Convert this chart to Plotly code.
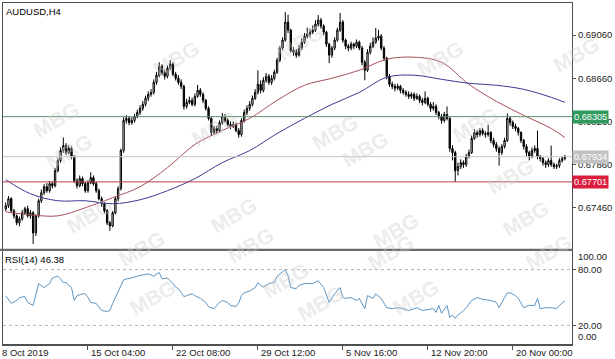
import plotly.graph_objects as go

# ---------------- data (prices in points, 1 point = 0.00001) ----------------
bar_open = [
    67450, 67480, 67545, 67433, 67386, 67321, 67359, 67414, 67452, 67386,
    67414, 67228, 67386, 67526, 67600, 67656, 67619, 67684, 67665, 67805,
    67898, 67991, 68037, 67972, 68010, 67935, 67712, 67665, 67731, 67684,
    67619, 67693, 67740, 67684, 67619, 67545, 67498, 67433, 67321, 67293,
    67414, 67545, 67638, 67991, 68270, 68289, 68251, 68270, 68307, 68344,
    68382, 68419, 68475, 68512, 68530, 68623, 68689, 68772, 68716, 68679,
    68754, 68791, 68698, 68661, 68623, 68586, 68400, 68437, 68456, 68419,
    68493, 68549, 68512, 68456, 68382, 68289, 68158, 68196, 68177, 68251,
    68307, 68270, 68233, 68214, 68233, 68177, 68140, 68270, 68344, 68382,
    68419, 68475, 68530, 68605, 68549, 68642, 68679, 68623, 68661, 68716,
    68828, 68940, 69014, 69181, 69107, 68921, 68902, 68875, 68940, 68995,
    69051, 69070, 69088, 69107, 69163, 69200, 69144, 69088, 68977, 68875,
    68940, 69014, 69107, 69181, 69014, 68958, 68940, 68977, 68958, 68995,
    68940, 68809, 68735, 68902, 68958, 68995, 69033, 69051, 68940, 68847,
    68679, 68605, 68586, 68568, 68586, 68549, 68530, 68512, 68493, 68512,
    68475, 68493, 68456, 68437, 68475, 68419, 68382, 68400, 68344, 68307,
    68270, 68326, 68289, 68010, 67972, 67805, 67842, 67879, 67861, 67935,
    67972, 68103, 68158, 68140, 68177, 68149, 68140, 68158, 68084, 68047,
    68010, 67972, 68028, 68084, 68289, 68251, 68214, 68196, 68158, 68084,
    68028, 67972, 67935, 67991, 68010, 67935, 67917, 67879, 67861, 67898,
    67861, 67842, 67851, 67898, 67917,
]
bar_high = [
    67510, 67570, 67560, 67450, 67400, 67380, 67440, 67470, 67480, 67440,
    67430, 67400, 67545, 67630, 67680, 67690, 67710, 67705, 67830, 67920,
    68020, 68112, 68060, 68040, 68030, 67950, 67735, 67760, 67750, 67700,
    67715, 67790, 67760, 67700, 67640, 67565, 67515, 67450, 67340, 67430,
    67560, 67660, 68010, 68300, 68320, 68310, 68300, 68330, 68370, 68410,
    68450, 68500, 68540, 68560, 68650, 68720, 68809, 68790, 68740, 68780,
    68828, 68810, 68720, 68690, 68650, 68600, 68470, 68490, 68480, 68520,
    68600, 68570, 68530, 68470, 68400, 68300, 68220, 68220, 68270, 68340,
    68330, 68290, 68260, 68260, 68250, 68200, 68290, 68370, 68410, 68450,
    68500, 68560, 68735, 68640, 68670, 68710, 68700, 68690, 68740, 68850,
    68960, 69040, 69274, 69250, 69120, 68950, 68930, 68970, 69030, 69080,
    69130, 69120, 69150, 69200, 69246, 69220, 69160, 69100, 68990, 68960,
    69040, 69130, 69265, 69200, 69030, 68980, 69000, 68990, 69020, 69010,
    68960, 68830, 68930, 68990, 69040, 69126, 69110, 69070, 68960, 68860,
    68700, 68630, 68610, 68610, 68600, 68570, 68550, 68540, 68530, 68530,
    68520, 68510, 68480, 68540, 68490, 68440, 68440, 68420, 68360, 68330,
    68350, 68400, 68300, 68040, 67990, 67880, 67910, 67900, 67960, 68000,
    68130, 68190, 68180, 68200, 68200, 68170, 68230, 68170, 68110, 68070,
    68030, 68050, 68110, 68335, 68310, 68270, 68240, 68210, 68170, 68100,
    68050, 67990, 68020, 68040, 68177, 67950, 67930, 67900, 67920, 68037,
    67880, 67870, 67920, 67940, 67950,
]
bar_low = [
    67430, 67460, 67410, 67360, 67300, 67290, 67340, 67395, 67370, 67360,
    67126, 67200, 67370, 67505, 67580, 67600, 67600, 67640, 67650, 67790,
    67880, 67970, 67950, 67955, 67910, 67690, 67640, 67650, 67660, 67600,
    67600, 67680, 67665, 67600, 67530, 67470, 67410, 67300, 67247, 67280,
    67400, 67520, 67620, 67970, 68240, 68225, 68230, 68250, 68290, 68320,
    68360, 68400, 68450, 68490, 68510, 68600, 68670, 68690, 68650, 68660,
    68735, 68680, 68640, 68600, 68560, 68370, 68380, 68420, 68400, 68400,
    68480, 68490, 68430, 68360, 68270, 68130, 68140, 68150, 68160, 68230,
    68250, 68210, 68190, 68200, 68160, 68110, 68120, 68250, 68320, 68360,
    68400, 68460, 68510, 68520, 68530, 68620, 68600, 68600, 68640, 68700,
    68810, 68920, 69000, 69080, 68900, 68870, 68850, 68860, 68920, 68980,
    69030, 69040, 69070, 69090, 69140, 69120, 69060, 68950, 68800, 68850,
    68920, 69000, 69090, 68990, 68930, 68910, 68920, 68930, 68940, 68920,
    68780, 68642, 68720, 68880, 68940, 68980, 69010, 68920, 68820, 68650,
    68580, 68560, 68540, 68550, 68520, 68510, 68490, 68470, 68470, 68450,
    68460, 68430, 68410, 68420, 68400, 68350, 68360, 68320, 68280, 68240,
    68250, 68270, 67980, 67900, 67701, 67760, 67820, 67830, 67840, 67920,
    67960, 68090, 68110, 68120, 68130, 68110, 68120, 68060, 68020, 67980,
    67851, 67950, 68010, 68070, 68220, 68190, 68170, 68130, 68060, 68000,
    67940, 67900, 67920, 67970, 67910, 67890, 67850, 67830, 67840, 67840,
    67820, 67820, 67830, 67880, 67900,
]
bar_close = [
    67480, 67545, 67433, 67386, 67321, 67359, 67414, 67452, 67386, 67414,
    67228, 67386, 67526, 67600, 67656, 67619, 67684, 67665, 67805, 67898,
    67991, 68037, 67972, 68010, 67935, 67712, 67665, 67731, 67684, 67619,
    67693, 67740, 67684, 67619, 67545, 67498, 67433, 67321, 67293, 67414,
    67545, 67638, 67991, 68270, 68289, 68251, 68270, 68307, 68344, 68382,
    68419, 68475, 68512, 68530, 68623, 68689, 68772, 68716, 68679, 68754,
    68791, 68698, 68661, 68623, 68586, 68400, 68437, 68456, 68419, 68493,
    68549, 68512, 68456, 68382, 68289, 68158, 68196, 68177, 68251, 68307,
    68270, 68233, 68214, 68233, 68177, 68140, 68270, 68344, 68382, 68419,
    68475, 68530, 68605, 68549, 68642, 68679, 68623, 68661, 68716, 68828,
    68940, 69014, 69181, 69107, 68921, 68902, 68875, 68940, 68995, 69051,
    69070, 69088, 69107, 69163, 69200, 69144, 69088, 68977, 68875, 68940,
    69014, 69107, 69181, 69014, 68958, 68940, 68977, 68958, 68995, 68940,
    68809, 68735, 68902, 68958, 68995, 69033, 69051, 68940, 68847, 68679,
    68605, 68586, 68568, 68586, 68549, 68530, 68512, 68493, 68512, 68475,
    68493, 68456, 68437, 68475, 68419, 68382, 68400, 68344, 68307, 68270,
    68326, 68289, 68010, 67972, 67805, 67842, 67879, 67861, 67935, 67972,
    68103, 68158, 68140, 68177, 68149, 68140, 68158, 68084, 68047, 68010,
    67972, 68028, 68084, 68289, 68251, 68214, 68196, 68158, 68084, 68028,
    67972, 67935, 67991, 68010, 67935, 67917, 67879, 67861, 67898, 67861,
    67842, 67851, 67898, 67917, 67934,
]
bar_index = list(range(1, len(bar_close) + 1))

# moving averages read at sampled bars
ma_bars = [1, 10, 20, 30, 40, 50, 60, 70, 80, 90, 100, 110, 120, 130, 140,
           150, 160, 170, 180, 190, 200, 205]
ma_red = [67424, 67396, 67386, 67461, 67554, 67656, 67833, 68047, 68177, 68289,
          68456, 68596, 68661, 68735, 68837, 68856, 68809, 68605, 68447, 68317,
          68196, 68112]
ma_blue = [67721, 67591, 67526, 67526, 67498, 67535, 67619, 67731, 67879, 67991,
           68149, 68289, 68419, 68530, 68670, 68689, 68651, 68614, 68596, 68558,
           68484, 68437]

# RSI(14)
rsi_bars = [1, 3, 5, 6, 8, 9, 11, 12, 13, 15, 17, 18, 20, 21, 22, 23, 25, 26, 27, 29,
            30, 31, 32, 34, 36, 38, 39, 40, 41, 42, 43, 44, 45, 47, 49, 51, 53, 55, 57, 58,
            60, 62, 63, 64, 66, 67, 69, 70, 72, 74, 75, 77, 79, 80, 82, 83, 85, 86, 87, 88,
            90, 92, 93, 95, 97, 99, 100, 103, 104, 105, 107, 108, 110, 111, 113, 115, 117, 119, 120, 121,
            123, 124, 125, 127, 129, 130, 132, 133, 135, 136, 138, 140, 142, 144, 146, 148, 150, 151, 153, 155,
            157, 158, 159, 160, 162, 163, 164, 165, 166, 168, 169, 171, 173, 175, 178, 180, 181, 183, 184, 185,
            187, 188, 190, 192, 194, 195, 196, 198, 200, 202, 203, 205]
rsi_vals = [52, 43.6, 46.8, 50, 51, 44.7, 41.5, 54, 65, 60.6, 65, 71, 73, 70, 66, 66, 60.6, 46.8, 52, 54,
            54, 50, 44.7, 43.6, 36, 35, 36, 43.6, 50, 57, 63, 69, 70, 71, 73, 74.5, 75.5, 73, 77, 70,
            71, 65, 61, 59.6, 51, 52, 54, 52, 49, 44.7, 40, 38, 44.7, 46.8, 44.7, 41.5, 40.4, 44, 52, 55,
            57, 60.6, 66, 61, 65, 66, 73, 80, 73, 60.6, 59.6, 63, 65, 65, 65, 68, 60.6, 44.7, 50, 54,
            60.6, 50, 49, 50, 46.8, 49, 38, 52, 49, 54, 49, 39, 38, 39, 38, 36, 38, 39, 36, 37,
            38, 34, 41.5, 33, 41.5, 28.7, 31, 27.7, 31, 36, 39, 46.8, 50, 48, 46.8, 44.7, 39, 50, 55, 55,
            52, 49, 39, 41.5, 41.5, 49, 38, 39, 39, 38, 41.5, 46.38]
rsi_levels = [80, 20]

symbol_title = "AUDUSD,H4"
rsi_title = "RSI(14) 46.38"
watermark_text = "MBG"

level_support = 67701
level_resist = 68305
level_current = 67934

price_ticks = [69060, 68660, 68260, 67860, 67460]
time_tick_bars = [0, 31, 62, 93, 124, 155, 186]
time_tick_text = ["8 Oct 2019", "15 Oct 04:00", "22 Oct 08:00", "29 Oct 12:00",
                  "5 Nov 16:00", "12 Nov 20:00", "20 Nov 00:00"]

PT = 1e-5
def px(v):
    return [round(a * PT, 5) for a in v]

FONT = "Liberation Sans"
AX = "#505050"
W, H = 615, 359

fig = go.Figure()
fig.add_trace(go.Candlestick(
    x=bar_index, open=px(bar_open), high=px(bar_high), low=px(bar_low), close=px(bar_close),
    increasing=dict(line=dict(color="#000000", width=1), fillcolor="#ffffff"),
    decreasing=dict(line=dict(color="#000000", width=1), fillcolor="#000000"),
    whiskerwidth=0, xaxis="x", yaxis="y", showlegend=False, hoverinfo="skip"))
fig.add_trace(go.Scatter(x=ma_bars, y=px(ma_red), mode="lines",
                         line=dict(color="#a8505a", width=1, shape="spline"),
                         xaxis="x", yaxis="y", showlegend=False, hoverinfo="skip"))
fig.add_trace(go.Scatter(x=ma_bars, y=px(ma_blue), mode="lines",
                         line=dict(color="#3a3a96", width=1, shape="spline"),
                         xaxis="x", yaxis="y", showlegend=False, hoverinfo="skip"))
fig.add_trace(go.Scatter(x=rsi_bars, y=rsi_vals, mode="lines",
                         line=dict(color="#5f94bf", width=1),
                         xaxis="x2", yaxis="y2", showlegend=False, hoverinfo="skip"))

XR = [0, 207.6]
fig.update_layout(
    width=W, height=H,
    margin=dict(l=3, r=43, t=3, b=15),
    paper_bgcolor="#ffffff", plot_bgcolor="#ffffff",
    font=dict(family=FONT, size=9.5, color="#000000"),
    showlegend=False,
    xaxis=dict(domain=[0, 1], range=XR, anchor="y", showticklabels=False, ticks="",
               showgrid=False, zeroline=False, showline=True, linecolor=AX, linewidth=1,
               mirror=True, rangeslider=dict(visible=False)),
    yaxis=dict(domain=[0.2786, 1], range=[0.67079, 0.69358], side="right", anchor="x",
               tickvals=px(price_ticks), ticktext=["%.5f" % v for v in px(price_ticks)],
               ticks="outside", ticklen=3, tickcolor=AX, showgrid=False, zeroline=False,
               showline=True, linecolor=AX, linewidth=1, mirror=True,
               tickfont=dict(size=9.5, color="#202020")),
    xaxis2=dict(domain=[0, 1], range=XR, anchor="y2", tickvals=time_tick_bars[1:],
                showticklabels=False, ticks="outside", ticklen=4, tickcolor=AX,
                showgrid=False, zeroline=False, showline=True, linecolor=AX, linewidth=2,
                mirror=True),
    yaxis2=dict(domain=[0, 0.2727], range=[0, 100], side="right", anchor="x2",
                tickvals=rsi_levels, ticktext=["%.2f" % v for v in rsi_levels],
                ticks="outside", ticklen=3, tickcolor=AX, showgrid=False, zeroline=False,
                showline=True, linecolor=AX, linewidth=1, mirror=True,
                tickfont=dict(size=9.5, color="#202020")),
)

# horizontal levels
fig.add_shape(type="line", xref="x domain", yref="y", x0=0, x1=1,
              y0=level_resist * PT, y1=level_resist * PT, line=dict(color="#5e8f6e", width=1))
fig.add_shape(type="line", xref="x domain", yref="y", x0=0, x1=1,
              y0=level_current * PT, y1=level_current * PT, line=dict(color="#c4c4c4", width=1))
fig.add_shape(type="line", xref="x domain", yref="y", x0=0, x1=1,
              y0=level_support * PT, y1=level_support * PT, line=dict(color="#b8404e", width=1))
for lv in rsi_levels:
    fig.add_shape(type="line", xref="x2 domain", yref="y2", x0=0, x1=1, y0=lv, y1=lv,
                  line=dict(color="#b4b4b4", width=1, dash="dot"))

# panel separator
fig.add_shape(type="rect", xref="paper", yref="paper", x0=-0.006, x1=1.0,
              y0=0.2725, y1=0.2790, fillcolor="#6a6a6a", line=dict(width=0), layer="above")

# faint watermarks (page pixel centres)
wm_centres = [(147, 34), (300, 18), (470, 34), (606, 30), (27, 95), (335, 108), (505, 100),
              (40, 152), (185, 128), (365, 150), (540, 176), (233, 215), (60, 240),
              (425, 230), (555, 218), (112, 273), (250, 270), (420, 277), (578, 277),
              (123, 322), (285, 305), (445, 322), (320, 328)]
for cx, cy in wm_centres:
    fig.add_annotation(x=(cx - 3) / 569, xref="paper", y=(344 - cy) / 341, yref="paper",
                       text="<b>" + watermark_text + "</b>", showarrow=False, textangle=-30,
                       font=dict(family="Liberation Sans", size=21, color="rgba(205,205,205,0.38)"))

# price boxes on the right axis
for val, bg in [(level_resist, "#2f9a5c"), (level_current, "#c2c2c2"), (level_support, "#dc1e3e")]:
    fig.add_annotation(x=1, xref="paper", y=val * PT, yref="y", text="%.5f" % (val * PT),
                       xanchor="left", yanchor="middle", xshift=0, showarrow=False,
                       bgcolor=bg, borderpad=1, font=dict(color="#ffffff", size=9.2))

# RSI extreme labels
fig.add_annotation(x=1, xref="paper", y=100, yref="y2", text="100.00", xanchor="left",
                   yanchor="middle", xshift=4, yshift=-5, showarrow=False,
                   font=dict(color="#202020", size=9.5))
fig.add_annotation(x=1, xref="paper", y=0, yref="y2", text="0.00", xanchor="left",
                   yanchor="middle", xshift=4, yshift=7, showarrow=False,
                   font=dict(color="#202020", size=9.5))

# time labels (left aligned at their ticks)
for b, t in zip(time_tick_bars, time_tick_text):
    fig.add_annotation(x=b, xref="x2", y=0, yref="paper", text=t, xanchor="left",
                       yanchor="top", xshift=1 if b > 0 else -3, yshift=-1, showarrow=False,
                       font=dict(color="#202020", size=9.5))

# titles
fig.add_annotation(x=0, xref="paper", y=1, yref="paper", text=symbol_title, xanchor="left",
                   yanchor="top", xshift=1, yshift=-1, showarrow=False,
                   font=dict(color="#000000", size=9.5))
fig.add_annotation(x=0, xref="paper", y=0.2727, yref="paper", text=rsi_title, xanchor="left",
                   yanchor="top", xshift=0, yshift=-1, showarrow=False,
                   font=dict(color="#000000", size=9.5))

fig.write_html("out.html", config={"displayModeBar": False},
               post_script="document.body.style.margin='0px';document.body.style.overflow='hidden';")
